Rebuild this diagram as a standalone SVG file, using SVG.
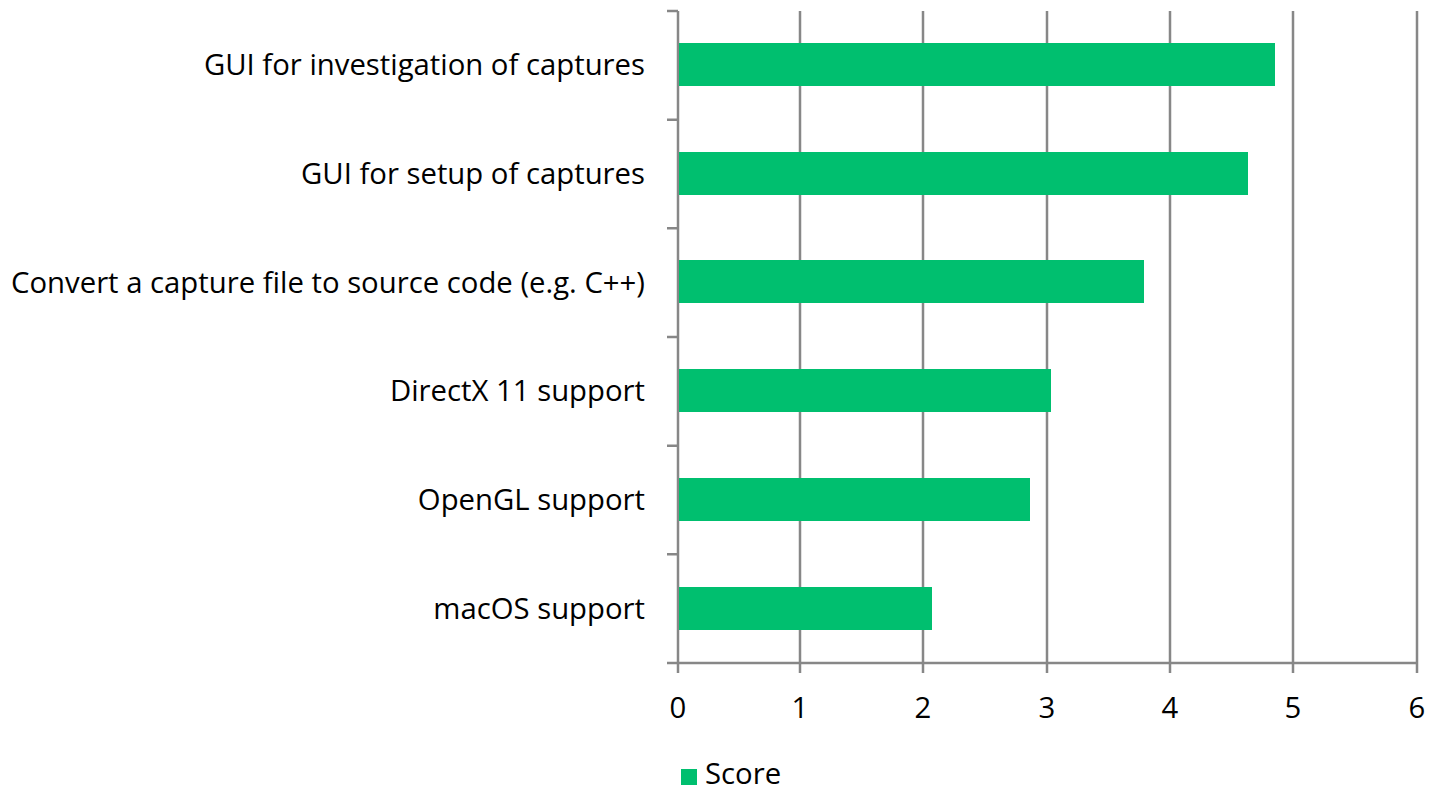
<svg xmlns="http://www.w3.org/2000/svg" width="1438" height="791" viewBox="0 0 1438 791">
<style>
.grid{stroke:#878787;stroke-width:2.5;fill:none}
.bar{fill:#00BF6F}
.lbl{font-family:"Open Sans","Liberation Sans",sans-serif;font-size:29.3px;fill:#000}
.cat{text-anchor:end}
.tick{text-anchor:middle}
</style>
<rect width="1438" height="791" fill="#fff"/>
<g id="grid">
<path class="grid" d="M800,11V673M923,11V673M1047,11V673M1170,11V673M1293,11V673M1417,11V673"/>
<path class="grid" d="M678,11V673M667,663H1417M667,11H678M667,119.7H678M667,228.3H678M667,337H678M667,445.7H678M667,554.3H678"/>
</g>
<g id="bars">
<rect id="bar1" class="bar" x="679" y="43" width="596" height="43"/>
<rect id="bar2" class="bar" x="679" y="152" width="569" height="43"/>
<rect id="bar3" class="bar" x="679" y="260" width="465" height="43"/>
<rect id="bar4" class="bar" x="679" y="369" width="372" height="43"/>
<rect id="bar5" class="bar" x="679" y="478" width="351" height="43"/>
<rect id="bar6" class="bar" x="679" y="587" width="253" height="43"/>
</g>
<g id="labels">
<text class="lbl cat" x="645" y="75">GUI for investigation of captures</text>
<text class="lbl cat" x="645" y="184">GUI for setup of captures</text>
<text class="lbl cat" x="645" y="293">Convert a capture file to source code (e.g. C++)</text>
<text class="lbl cat" x="645" y="401">DirectX 11 support</text>
<text class="lbl cat" x="645" y="510">OpenGL support</text>
<text class="lbl cat" x="645" y="619">macOS support</text>
</g>
<g id="ticks">
<text class="lbl tick" x="678" y="718">0</text>
<text class="lbl tick" x="800" y="718">1</text>
<text class="lbl tick" x="923" y="718">2</text>
<text class="lbl tick" x="1047" y="718">3</text>
<text class="lbl tick" x="1170" y="718">4</text>
<text class="lbl tick" x="1293" y="718">5</text>
<text class="lbl tick" x="1417" y="718">6</text>
</g>
<g id="legend">
<rect class="bar" x="681" y="769" width="16" height="16"/>
<text class="lbl" x="705" y="784">Score</text>
</g>
</svg>
